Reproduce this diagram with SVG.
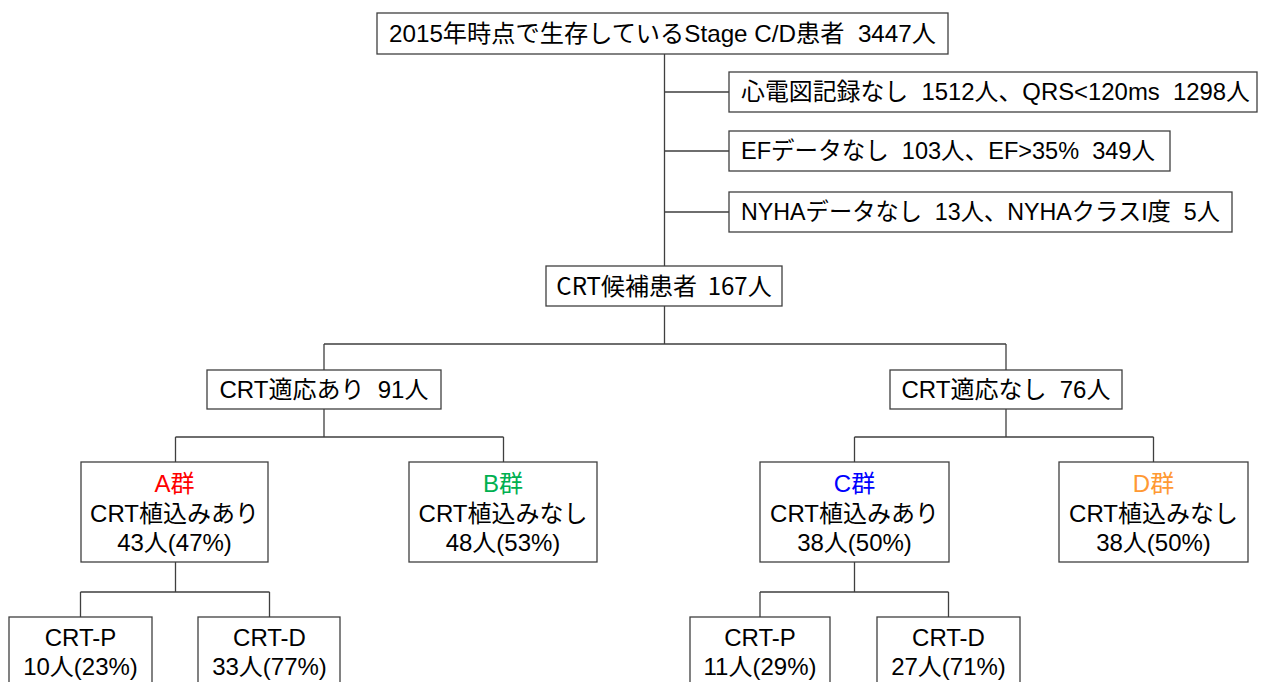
<svg xmlns="http://www.w3.org/2000/svg" width="1266" height="682" viewBox="0 0 1266 682">
<style>
text{white-space:pre}
.box{fill:#fff;stroke:#3f3f3f;stroke-width:1.3}
.t{font-family:"Liberation Sans","Noto Sans CJK JP",sans-serif;font-size:24px;fill:#000}
.m{text-anchor:middle}
.c{font-family:"Noto Sans CJK JP",sans-serif;font-size:24px;fill:#000;text-anchor:middle}
#connectors path{fill:none;stroke:#3f3f3f;stroke-width:1.3}
</style>
<rect width="1266" height="682" fill="#fff"/>
<g id="connectors">
<path d="M664.5,54V266M664.5,92H729M664.5,151H729M664.5,212H729"/>
<path d="M664.5,306V344M324,344H1006M324,344V370M1006,344V370"/>
<path d="M324,409V437M175.5,437H503.5M175.5,437V462M503.5,437V462"/>
<path d="M1006,409V437M854.5,437H1153.5M854.5,437V462M1153.5,437V462"/>
<path d="M175.5,562V592M80.5,592H269.5M80.5,592V617M269.5,592V617"/>
<path d="M854.5,562V592M760,592H948.5M760,592V617M948.5,592V617"/>
</g>
<g id="n-root"><rect class="box" x="377" y="13" width="571" height="41"/><text class="t m" x="662.5" y="42" textLength="547" lengthAdjust="spacingAndGlyphs">2015年時点で生存しているStage C/D患者  3447人</text></g>
<g id="n-ecg"><rect class="box" x="729" y="72" width="528" height="40"/><text class="t" x="741" y="100" textLength="509" lengthAdjust="spacingAndGlyphs">心電図記録なし  1512人、QRS&lt;120ms  1298人</text></g>
<g id="n-ef"><rect class="box" x="729" y="131" width="441" height="40"/><text class="t" x="741" y="159" textLength="414" lengthAdjust="spacingAndGlyphs">EFデータなし  103人、EF&gt;35%  349人</text></g>
<g id="n-nyha"><rect class="box" x="729" y="192" width="503" height="40"/><text class="t" x="741" y="220" textLength="479" lengthAdjust="spacingAndGlyphs">NYHAデータなし  13人、NYHAクラスI度  5人</text></g>
<g id="n-cand"><rect class="box" x="546" y="266" width="236" height="40"/><text class="c" x="664" y="295">CRT候補患者  167人</text></g>
<g id="n-yes"><rect class="box" x="207" y="370" width="234" height="39"/><text class="t m" x="324" y="398">CRT適応あり  91人</text></g>
<g id="n-no"><rect class="box" x="890" y="370" width="232" height="39"/><text class="t m" x="1006" y="398">CRT適応なし  76人</text></g>
<g id="n-a"><rect class="box" x="81" y="462" width="187" height="100"/>
<text class="t m" x="174.5" y="492" style="fill:#ff0000">A群</text>
<text class="t m" x="174.5" y="522">CRT植込みあり</text>
<text class="t m" x="174.5" y="551">43人(47%)</text></g>
<g id="n-b"><rect class="box" x="409" y="462" width="188" height="100"/>
<text class="t m" x="503" y="492" style="fill:#00b050">B群</text>
<text class="t m" x="503" y="522">CRT植込みなし</text>
<text class="t m" x="503" y="551">48人(53%)</text></g>
<g id="n-c"><rect class="box" x="760" y="462" width="189" height="100"/>
<text class="t m" x="854.5" y="492" style="fill:#0000ff">C群</text>
<text class="t m" x="854.5" y="522">CRT植込みあり</text>
<text class="t m" x="854.5" y="551">38人(50%)</text></g>
<g id="n-d"><rect class="box" x="1059" y="462" width="189" height="100"/>
<text class="t m" x="1153.5" y="492" style="fill:#ff9933">D群</text>
<text class="t m" x="1153.5" y="522">CRT植込みなし</text>
<text class="t m" x="1153.5" y="551">38人(50%)</text></g>
<g id="n-ap"><rect class="box" x="9" y="617" width="143" height="80"/>
<text class="t m" x="80.5" y="646">CRT-P</text><text class="t m" x="80.5" y="675">10人(23%)</text></g>
<g id="n-ad"><rect class="box" x="198" y="617" width="142" height="80"/>
<text class="t m" x="269.5" y="646">CRT-D</text><text class="t m" x="269.5" y="675">33人(77%)</text></g>
<g id="n-cp"><rect class="box" x="690" y="617" width="140" height="80"/>
<text class="t m" x="760" y="646">CRT-P</text><text class="t m" x="760" y="675">11人(29%)</text></g>
<g id="n-cd"><rect class="box" x="877" y="617" width="143" height="80"/>
<text class="t m" x="948.5" y="646">CRT-D</text><text class="t m" x="948.5" y="675">27人(71%)</text></g>
</svg>
